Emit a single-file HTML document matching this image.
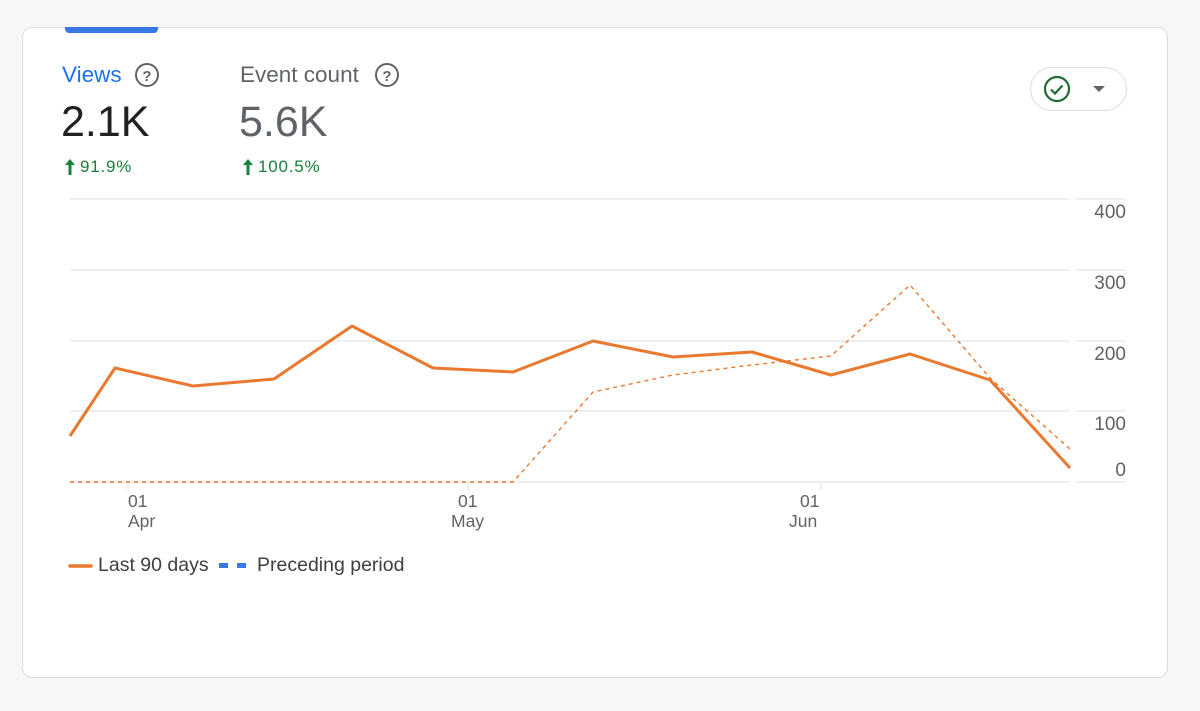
<!DOCTYPE html>
<html><head><style>
body{margin:0;width:1200px;height:711px;background:#f6f7f9;font-family:"Liberation Sans",sans-serif;overflow:hidden;position:relative}
.card{position:absolute;left:22px;top:27px;width:1144px;height:649px;background:#fff;border:1px solid #dadce0;border-radius:10px}
.t{position:absolute;white-space:nowrap}
</style></head><body>
<div class="card"></div>
<div style="position:absolute;left:65px;top:27px;width:93px;height:6px;background:#3b78e7;border-radius:0 0 4px 4px"></div>
<div class="t" style="left:62px;top:62px;font-size:22.5px;color:#1a73e8">Views</div>
<div class="t" style="left:240px;top:62px;font-size:22.5px;color:#5f6368">Event count</div>
<svg style="position:absolute;left:0;top:0" width="1200" height="711">
<g fill="none" stroke="#5f6368" stroke-width="2"><circle cx="147" cy="75" r="11"/><circle cx="387" cy="75" r="11"/></g>
<text x="147" y="81" font-size="15" font-weight="bold" fill="#5f6368" text-anchor="middle" font-family="Liberation Sans">?</text>
<text x="387" y="81" font-size="15" font-weight="bold" fill="#5f6368" text-anchor="middle" font-family="Liberation Sans">?</text>
<g fill="#188038"><path d="M70 159l-5 6h3.5v10h3v-10h3.5z"/><path d="M248 159l-5 6h3.5v10h3v-10h3.5z"/></g>
<rect x="1030.5" y="67.5" width="96" height="43" rx="21.5" fill="#fff" stroke="#dadce0"/>
<circle cx="1057" cy="89" r="12" fill="none" stroke="#1e6b35" stroke-width="2.2"/>
<path d="M1051 89.5l4 4 7.5-8" fill="none" stroke="#1e6b35" stroke-width="2.2"/>
<path d="M1093 86h12l-6 6z" fill="#5f6368"/>
<g stroke="#e3e5e8" stroke-width="1.3">
<line x1="70" y1="199" x2="1070" y2="199"/><line x1="1076" y1="199" x2="1126" y2="199"/>
<line x1="70" y1="270" x2="1070" y2="270"/><line x1="1076" y1="270" x2="1126" y2="270"/>
<line x1="70" y1="341" x2="1070" y2="341"/><line x1="1076" y1="341" x2="1126" y2="341"/>
<line x1="70" y1="411" x2="1070" y2="411"/><line x1="1076" y1="411" x2="1126" y2="411"/>
<line x1="70" y1="482" x2="1070" y2="482"/><line x1="1076" y1="482" x2="1126" y2="482"/>
<line x1="128" y1="482" x2="128" y2="490"/><line x1="468" y1="482" x2="468" y2="490"/><line x1="821" y1="482" x2="821" y2="490"/>
</g>
<g font-size="19" fill="#5f6368" font-family="Liberation Sans" text-anchor="end">
<text x="1126" y="218">400</text><text x="1126" y="289">300</text><text x="1126" y="360">200</text><text x="1126" y="430">100</text><text x="1126" y="476">0</text>
</g>
<g font-size="17.5" fill="#5f6368" font-family="Liberation Sans">
<text x="128" y="507">01</text><text x="128" y="527">Apr</text>
<text x="458" y="507">01</text><text x="451" y="527">May</text>
<text x="800" y="507">01</text><text x="789" y="527">Jun</text>
</g>
<polyline fill="none" stroke="#e8792f" stroke-width="1.4" stroke-dasharray="4,4" points="70,482 513,482 593,392 673,375 752,365 831,356 910,285 990,378 1070,449"/>
<polyline fill="none" stroke="#e8792f" stroke-width="3" stroke-linejoin="round" points="70,436 115,368 193,386 274,379 352,326 433,368 513,372 593,341 673,357 752,352 831,375 910,354 990,380 1070,468"/>
<line x1="70" y1="566" x2="91" y2="566" stroke="#e8792f" stroke-width="3.5" stroke-linecap="round"/>
<rect x="219" y="563" width="9" height="5" fill="#3b78e7"/><rect x="237" y="563" width="9" height="5" fill="#3b78e7"/>
</svg>
<div class="t" style="left:61px;top:98px;font-size:43px;color:#202124">2.1K</div>
<div class="t" style="left:239px;top:98px;font-size:43px;color:#5f6368">5.6K</div>
<div class="t" style="left:80px;top:157px;font-size:17px;color:#188038;letter-spacing:0.8px">91.9%</div>
<div class="t" style="left:258px;top:157px;font-size:17px;color:#188038;letter-spacing:0.8px">100.5%</div>
<div class="t" style="left:98px;top:554px;font-size:19.5px;color:#3c4043">Last 90 days</div>
<div class="t" style="left:257px;top:554px;font-size:19.5px;color:#3c4043">Preceding period</div>
</body></html>
